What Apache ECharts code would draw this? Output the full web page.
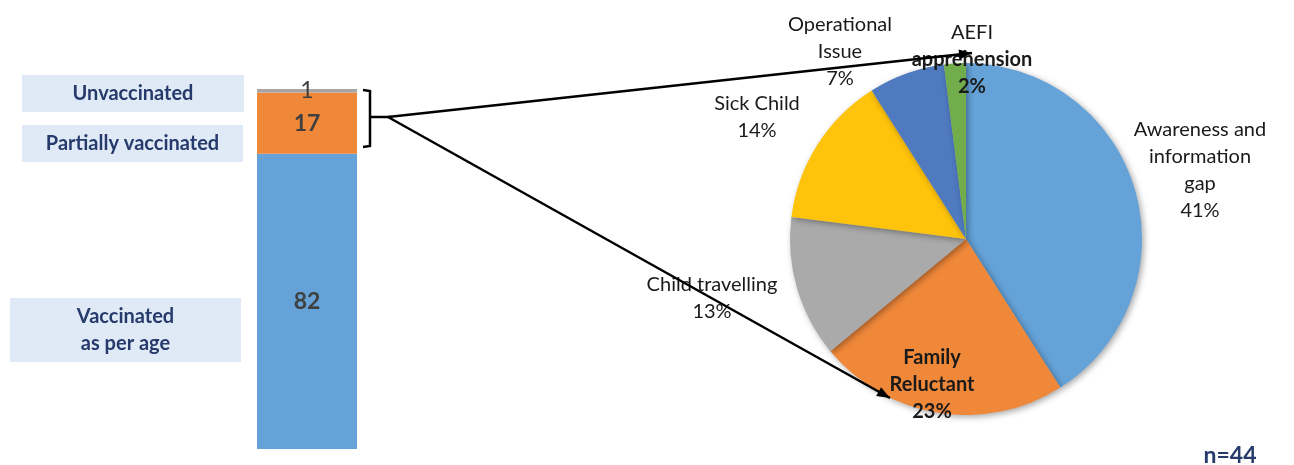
<!DOCTYPE html>
<html><head><meta charset="utf-8">
<script src="https://cdn.jsdelivr.net/npm/echarts@6/dist/echarts.min.js"></script>
<style>html,body{margin:0;padding:0;background:#fff}#c{width:1294px;height:465px}</style>
</head><body><div id="c"></div>
<script>
// ---- data ----
const barCategories = ['Vaccinated as per age', 'Partially vaccinated', 'Unvaccinated'];
const barValues = [82, 17, 1];
const pieNames = ['Awareness and\ninformation\ngap', 'Family\nReluctant', 'Child travelling', 'Sick Child', 'Operational\nIssue', 'AEFI\napprehension'];
const pieValues = [41, 23, 13, 14, 7, 2];
const sampleLabel = 'n=44';

// ---- styles ----
const FONT = 'Lato, "Open Sans", sans-serif';
const barColors = ['#64a2d8', '#f0883a', '#a5a5a5'];
const barLabelWeight = ['bold', 'bold', 'normal'];
const pieColors = ['#64a2d8', '#f0883a', '#a9aaa9', '#fec30b', '#4f7ac0', '#72ad4c'];
const labelPos = [[1200, 170], [932, 385], [712, 298], [757, 117], [840, 52], [972, 60]];
const labelBold = ['normal', 'bold', 'normal', 'normal', 'normal', 'normal'];
const boxes = [
  {x: 22, y: 75, w: 222, h: 37, text: 'Unvaccinated'},
  {x: 22, y: 125, w: 221, h: 37, text: 'Partially vaccinated'},
  {x: 10, y: 298, w: 231, h: 64, text: 'Vaccinated\nas per age'}
];

const chart = echarts.init(document.getElementById('c'));

const barSeries = barValues.map((v, i) => ({
  type: 'bar', stack: 's', name: barCategories[i], data: [v], barWidth: '100%',
  itemStyle: {color: barColors[i]},
  label: {show: true, position: 'inside', color: '#404040', fontSize: 23, fontWeight: barLabelWeight[i], fontFamily: FONT}
}));

const graphics = [];
boxes.forEach(b => {
  graphics.push({type: 'rect', shape: {x: b.x, y: b.y, width: b.w, height: b.h}, style: {fill: '#dfeaf6'}, silent: true});
  graphics.push({type: 'text', x: b.x + b.w / 2, y: b.y + b.h / 2,
    style: {text: b.text, fill: '#263a6b', font: 'bold 20px ' + FONT, align: 'center', verticalAlign: 'middle', lineHeight: 27}});
});
// bracket
graphics.push({type: 'polyline', shape: {points: [[363, 90], [370, 91], [370, 146], [363, 147]]}, style: {stroke: '#000', lineWidth: 2.5, fill: null}});
graphics.push({type: 'line', shape: {x1: 370, y1: 117, x2: 392, y2: 117}, style: {stroke: '#000', lineWidth: 2.5}});
// arrows
function arrow(x1, y1, x2, y2) {
  graphics.push({type: 'line', shape: {x1, y1, x2, y2}, style: {stroke: '#000', lineWidth: 2.5}, z: 100});
  const a = Math.atan2(y2 - y1, x2 - x1), L = 13, W = 5;
  const bx = x2 - L * Math.cos(a), by = y2 - L * Math.sin(a);
  graphics.push({type: 'polygon', z: 100, shape: {points: [[x2, y2], [bx + W * Math.sin(a), by - W * Math.cos(a)], [bx - W * Math.sin(a), by + W * Math.cos(a)]]}, style: {fill: '#000'}});
}
arrow(388, 117, 972, 53);
arrow(388, 117, 890, 398);
graphics.push({type: 'text', x: 1230, y: 456, style: {text: sampleLabel, fill: '#263a6b', font: 'bold 23px ' + FONT, align: 'center', verticalAlign: 'middle'}});

function pieLabel(p) {
  if (p.dataIndex === 5) {
    const parts = p.name.split('\n');
    return parts[0] + '\n{b|' + parts[1] + '}\n{b|' + p.value + '%}';
  }
  return p.name + '\n' + p.value + '%';
}

chart.setOption({
  animation: false,
  grid: {left: 257, top: 89, width: 100, height: 360},
  xAxis: {type: 'category', data: ['all'], show: false},
  yAxis: {type: 'value', min: 0, max: 100, show: false},
  series: barSeries.concat([{
    type: 'pie', center: [966, 239], radius: 176, startAngle: 90, clockwise: true,
    data: pieValues.map((v, i) => ({name: pieNames[i], value: v, itemStyle: {color: pieColors[i]},
      label: {fontWeight: labelBold[i]}})),
    itemStyle: {shadowBlur: 6, shadowColor: 'rgba(0,0,0,0.35)', shadowOffsetX: 2, shadowOffsetY: 2},
    label: {show: true, position: 'outside', formatter: pieLabel, color: '#1a1a1a',
      fontSize: 20, lineHeight: 27, fontFamily: FONT, align: 'center', overflow: 'none', width: 300,
      rich: {b: {fontWeight: 'bold', fontSize: 20, lineHeight: 27, fontFamily: FONT, color: '#1a1a1a'}}},
    labelLine: {show: false},
    labelLayout: p => ({x: labelPos[p.dataIndex][0], y: labelPos[p.dataIndex][1], align: 'center', verticalAlign: 'middle'}),
    emphasis: {disabled: true}
  }]),
  graphic: graphics
});
</script></body></html>
